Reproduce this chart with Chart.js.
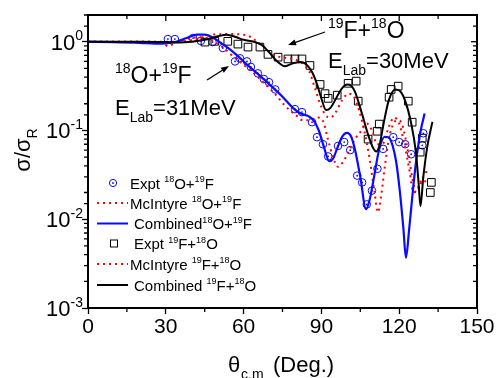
<!DOCTYPE html>
<html>
<head>
<meta charset="utf-8">
<script src="https://cdn.jsdelivr.net/npm/chart.js@4.4.1/dist/chart.umd.min.js"></script>
<style>
html, body { margin: 0; padding: 0; background: #fff; }
</style>
</head>
<body>
<canvas id="chart" width="497" height="378"></canvas>
<script>
// Expt 18O+19F (blue circles)
const exptOFAngles = [30.8, 33.5, 40.5, 43.5, 48, 52, 56.7, 58.6, 61.3, 62.8, 65.5, 67.8, 69.8, 72.2, 79.8, 82.5, 86.4, 88.3, 90.6, 92.6, 96.4, 98.8, 101.1, 103.8, 105.7, 107.5, 109.5, 111.6, 113.8, 117.7, 120.0, 122.3, 124.6, 128.9, 129.3];
const exptOFValues = [1.07, 1.07, 1.1, 1.02, 0.99, 0.85, 0.6, 0.65, 0.6, 0.52, 0.44, 0.38, 0.35, 0.29, 0.174, 0.161, 0.124, 0.084, 0.070, 0.051, 0.067, 0.074, 0.060, 0.031, 0.026, 0.0147, 0.021, 0.037, 0.062, 0.084, 0.074, 0.070, 0.054, 0.068, 0.093];

// Expt 19F+18O (black squares)
const exptFOAngles = [45.1, 48.9, 53.9, 57.8, 61.7, 66.3, 69.4, 73.3, 77.1, 79.8, 82.5, 85.6, 89.5, 91.4, 92.6, 96.1, 100.3, 103.4, 104.2, 108.0, 111.5, 112.3, 116.1, 116.9, 119.6, 123.5, 125.0, 128.1, 128.9, 132.4, 132.0];
const exptFOValues = [0.99, 1.01, 1.01, 0.94, 0.87, 0.87, 0.72, 0.67, 0.64, 0.64, 0.64, 0.54, 0.33, 0.26, 0.23, 0.25, 0.34, 0.36, 0.214, 0.080, 0.098, 0.118, 0.237, 0.29, 0.316, 0.214, 0.124, 0.057, 0.082, 0.026, 0.020];

// McIntyre 18O+19F (red dotted)
const mcOFAngles = [0, 25, 29, 31, 33, 37, 42, 46, 50, 53, 56, 60, 64, 68, 72, 76, 80, 83, 86, 88.5, 90.5, 92.5, 94.5, 96.4, 98.5, 100.5, 103, 105.5, 107.5, 109.5, 111.5, 113.5, 116, 118, 120, 122, 124, 125.5, 127, 129, 131];
const mcOFValues = [1.0, 1.0, 0.95, 0.89, 0.95, 1.05, 1.12, 1.1, 0.95, 0.82, 0.68, 0.55, 0.44, 0.34, 0.26, 0.19, 0.15, 0.13, 0.13, 0.14, 0.13, 0.08, 0.05, 0.039, 0.045, 0.058, 0.08, 0.1, 0.12, 0.1, 0.07, 0.07, 0.11, 0.14, 0.12, 0.07, 0.035, 0.02, 0.022, 0.028, 0.025];

// Combined 18O+19F (blue line)
const combOFAngles = [0, 10, 20, 26, 30, 34, 38, 42, 45, 48, 51, 54, 58, 62, 66, 70, 75, 79, 82, 85, 87, 89, 91, 93, 94.5, 96, 98, 99.9, 101.5, 103, 105, 107.2, 108.7, 110.3, 112.2, 114.4, 115.8, 117.3, 118.8, 120.3, 121.6, 122.6, 123.8, 125.2, 126.7, 128.3, 129.8];
const combOFValues = [1.0, 0.99, 0.97, 0.95, 0.96, 1.0, 1.1, 1.2, 1.2, 1.12, 0.98, 0.85, 0.68, 0.53, 0.42, 0.33, 0.24, 0.18, 0.155, 0.145, 0.13, 0.1, 0.065, 0.045, 0.048, 0.062, 0.085, 0.094, 0.085, 0.06, 0.03, 0.013, 0.017, 0.03, 0.06, 0.085, 0.084, 0.07, 0.045, 0.02, 0.008, 0.0037, 0.0075, 0.02, 0.05, 0.1, 0.155];

// McIntyre 19F+18O (red dotted)
const mcFOAngles = [0, 20, 30, 38, 44, 48, 55, 60, 63, 66, 69, 72, 76, 80, 83, 85.5, 87.5, 89.5, 91.5, 93.5, 95.5, 98, 100.5, 102.5, 104.5, 106.5, 108.5, 110.5, 111.8, 113, 114.5, 116, 117.8, 119.5, 121, 122.5, 124, 125.5, 126.5, 128, 130, 132];
const mcFOValues = [1.0, 1.0, 1.0, 1.02, 1.12, 1.2, 1.22, 1.2, 1.12, 0.95, 0.8, 0.7, 0.66, 0.63, 0.56, 0.45, 0.3, 0.2, 0.15, 0.14, 0.16, 0.22, 0.26, 0.24, 0.17, 0.1, 0.05, 0.02, 0.012, 0.018, 0.04, 0.08, 0.12, 0.13, 0.12, 0.08, 0.045, 0.025, 0.02, 0.024, 0.033, 0.035];

// Combined 19F+18O (black line)
const combFOAngles = [0, 20, 30, 35, 40, 45, 50, 53.5, 57, 60, 64, 67, 69.5, 72.5, 76, 79, 82, 84, 86.5, 88.2, 89.8, 91.8, 93.5, 96, 98, 100, 101.5, 103, 105.5, 108, 110, 111.2, 112.5, 114, 116, 118.5, 120.2, 122.2, 124.5, 126.5, 127.5, 128.2, 129.3, 130.8, 132.8];
const combFOValues = [1.0, 1.0, 0.99, 0.98, 1.0, 1.05, 1.15, 1.2, 1.13, 1.05, 1.0, 0.92, 0.78, 0.62, 0.53, 0.57, 0.59, 0.56, 0.45, 0.34, 0.24, 0.17, 0.18, 0.24, 0.3, 0.33, 0.32, 0.27, 0.16, 0.09, 0.063, 0.058, 0.07, 0.12, 0.22, 0.29, 0.28, 0.22, 0.125, 0.055, 0.025, 0.014, 0.03, 0.065, 0.125];

const yTickExps = ['0', '-1', '-2', '-3'];

const FONT = '"Liberation Sans", Arial, sans-serif';
const BLUE = '#0a0aff';
const RED = '#ff0000';

function toPoints(xs, ys) {
    return xs.map((x, i) => ({ x: x, y: ys[i] }));
}

function isPow10(v) {
    const l = Math.log10(v);
    return Math.abs(l - Math.round(l)) < 1e-9;
}

// draw text made of normal / sup / sub pieces
function richText(ctx, x, y, parts, size) {
    let cx = x;
    parts.forEach(p => {
        const t = p[0], mode = p[1] || 'n';
        let s = size, dy = 0;
        if (mode === 'sup') { s = Math.round(size * 0.62); dy = -size * 0.42; }
        if (mode === 'sub') { s = Math.round(size * 0.62); dy = size * 0.3; }
        ctx.font = s + 'px ' + FONT;
        ctx.fillText(t, cx, y + dy);
        cx += ctx.measureText(t).width;
    });
    return cx;
}

function arrow(ctx, x1, y1, x2, y2) {
    const a = Math.atan2(y2 - y1, x2 - x1);
    ctx.beginPath();
    ctx.moveTo(x1, y1);
    ctx.lineTo(x2 - 5 * Math.cos(a), y2 - 5 * Math.sin(a));
    ctx.stroke();
    ctx.beginPath();
    ctx.moveTo(x2, y2);
    ctx.lineTo(x2 - 8 * Math.cos(a) + 3 * Math.sin(a), y2 - 8 * Math.sin(a) - 3 * Math.cos(a));
    ctx.lineTo(x2 - 8 * Math.cos(a) - 3 * Math.sin(a), y2 - 8 * Math.sin(a) + 3 * Math.cos(a));
    ctx.closePath();
    ctx.fill();
}

// small dot in the centre of each open circle
const centreDots = {
    id: 'centreDots',
    afterDatasetsDraw(chart) {
        const ctx = chart.ctx;
        chart.data.datasets.forEach((ds, i) => {
            if (!ds.centreDot) return;
            ctx.save();
            ctx.fillStyle = ds.borderColor;
            chart.getDatasetMeta(i).data.forEach(p => {
                ctx.beginPath();
                ctx.arc(p.x, p.y, 0.9, 0, Math.PI * 2);
                ctx.fill();
            });
            ctx.restore();
        });
    }
};

const decorPlugin = {
    id: 'decor',
    afterDraw(chart) {
        const ctx = chart.ctx;
        const area = chart.chartArea;
        const xs = chart.scales.x, ys = chart.scales.y;
        ctx.save();
        ctx.fillStyle = '#000';
        ctx.strokeStyle = '#000';

        // top and right frame
        ctx.lineWidth = 2;
        ctx.beginPath();
        ctx.moveTo(area.left, area.top);
        ctx.lineTo(area.right, area.top);
        ctx.lineTo(area.right, area.bottom);
        ctx.stroke();

        // minor ticks outside, mirror ticks inside
        ctx.lineWidth = 1.3;
        xs.ticks.forEach(t => {
            const px = xs.getPixelForValue(t.value);
            const major = t.value % 30 === 0;
            ctx.beginPath();
            if (!major) {
                ctx.moveTo(px, area.bottom);
                ctx.lineTo(px, area.bottom + 4);
            }
            ctx.moveTo(px, area.top);
            ctx.lineTo(px, area.top + (major ? 6 : 4));
            ctx.stroke();
        });
        ys.ticks.forEach(t => {
            const py = ys.getPixelForValue(t.value);
            const major = isPow10(t.value);
            ctx.beginPath();
            if (!major) {
                ctx.moveTo(area.left, py);
                ctx.lineTo(area.left - 4, py);
            }
            ctx.moveTo(area.right, py);
            ctx.lineTo(area.right - (major ? 6 : 4), py);
            ctx.stroke();
        });

        // y tick labels 10^n
        ctx.textBaseline = 'alphabetic';
        ctx.textAlign = 'left';
        yTickExps.forEach(e => {
            const py = ys.getPixelForValue(Math.pow(10, Number(e)));
            ctx.font = '14px ' + FONT;
            const ew = ctx.measureText(e).width;
            ctx.font = '22px ' + FONT;
            const bw = ctx.measureText('10').width;
            const x0 = 83 - ew - bw;
            richText(ctx, x0, py + 8, [['10'], [e, 'sup']], 22);
        });

        // axis titles
        ctx.save();
        ctx.translate(30, 150);
        ctx.rotate(-Math.PI / 2);
        ctx.font = '22px ' + FONT;
        const w1 = ctx.measureText('\u03c3/\u03c3').width;
        ctx.font = '14px ' + FONT;
        const w2 = ctx.measureText('R').width;
        richText(ctx, -(w1 + w2) / 2, 0, [['\u03c3/\u03c3'], ['R', 'sub']], 22);
        ctx.restore();

        ctx.font = '22px ' + FONT;
        ctx.fillText('\u03b8', 228, 372);
        ctx.font = '14px ' + FONT;
        ctx.fillText('c.m', 241, 379);
        ctx.font = '22px ' + FONT;
        ctx.fillText('(Deg.)', 273, 372);

        // annotations
        richText(ctx, 328, 38, [['19', 'sup'], ['F+'], ['18', 'sup'], ['O']], 23);
        richText(ctx, 328, 68, [['E'], ['Lab', 'sub'], ['=30MeV']], 22);
        richText(ctx, 115, 83, [['18', 'sup'], ['O+'], ['19', 'sup'], ['F']], 23);
        richText(ctx, 115, 115, [['E'], ['Lab', 'sub'], ['=31MeV']], 22);
        ctx.lineWidth = 1.3;
        arrow(ctx, 325, 32, 288, 45);
        arrow(ctx, 207, 80, 229, 66);

        // legend
        const rows = [
            { y: 183, sym: 'circle', tx: 130, parts: [['Expt '], ['18', 'sup'], ['O+'], ['19', 'sup'], ['F']] },
            { y: 203, sym: 'red', tx: 130, parts: [['McIntyre '], ['18', 'sup'], ['O+'], ['19', 'sup'], ['F']] },
            { y: 223.5, sym: 'blue', tx: 134, parts: [['Combined'], ['18', 'sup'], ['O+'], ['19', 'sup'], ['F']] },
            { y: 243.5, sym: 'square', tx: 134, parts: [['Expt '], ['19', 'sup'], ['F+'], ['18', 'sup'], ['O']] },
            { y: 264, sym: 'red', tx: 130, parts: [['McIntyre '], ['19', 'sup'], ['F+'], ['18', 'sup'], ['O']] },
            { y: 285, sym: 'black', tx: 134, parts: [['Combined '], ['19', 'sup'], ['F+'], ['18', 'sup'], ['O']] }
        ];
        rows.forEach(r => {
            ctx.save();
            if (r.sym === 'circle') {
                ctx.strokeStyle = BLUE;
                ctx.fillStyle = BLUE;
                ctx.lineWidth = 1;
                ctx.beginPath();
                ctx.arc(113, r.y, 3.6, 0, Math.PI * 2);
                ctx.stroke();
                ctx.beginPath();
                ctx.arc(113, r.y, 0.9, 0, Math.PI * 2);
                ctx.fill();
            } else if (r.sym === 'square') {
                ctx.strokeStyle = '#000';
                ctx.lineWidth = 1;
                ctx.strokeRect(110.5, r.y - 3.5, 7, 7);
            } else {
                ctx.lineWidth = 2;
                ctx.strokeStyle = r.sym === 'red' ? RED : (r.sym === 'blue' ? BLUE : '#000');
                if (r.sym === 'red') ctx.setLineDash([2, 4]);
                ctx.beginPath();
                ctx.moveTo(97, r.y);
                ctx.lineTo(128, r.y);
                ctx.stroke();
            }
            ctx.restore();
            ctx.fillStyle = '#000';
            richText(ctx, r.tx, r.y + 5.5, r.parts, 15);
        });

        ctx.restore();
    }
};

new Chart(document.getElementById('chart'), {
    type: 'scatter',
    data: {
        datasets: [
            {
                label: 'Combined 19F+18O',
                data: toPoints(combFOAngles, combFOValues),
                showLine: true,
                borderColor: '#000',
                borderWidth: 2,
                pointRadius: 0,
                cubicInterpolationMode: 'monotone'
            },
            {
                label: 'Combined 18O+19F',
                data: toPoints(combOFAngles, combOFValues),
                showLine: true,
                borderColor: BLUE,
                borderWidth: 2.2,
                pointRadius: 0,
                cubicInterpolationMode: 'monotone'
            },
            {
                label: 'McIntyre 19F+18O',
                data: toPoints(mcFOAngles, mcFOValues),
                showLine: true,
                borderColor: RED,
                borderWidth: 2,
                borderDash: [2, 4],
                pointRadius: 0,
                cubicInterpolationMode: 'monotone'
            },
            {
                label: 'McIntyre 18O+19F',
                data: toPoints(mcOFAngles, mcOFValues),
                showLine: true,
                borderColor: RED,
                borderWidth: 2,
                borderDash: [2, 4],
                pointRadius: 0,
                cubicInterpolationMode: 'monotone'
            },
            {
                label: 'Expt 19F+18O',
                data: toPoints(exptFOAngles, exptFOValues),
                pointStyle: 'rect',
                pointRadius: 5.4,
                borderColor: '#000',
                borderWidth: 1,
                backgroundColor: 'rgba(255,255,255,0)'
            },
            {
                label: 'Expt 18O+19F',
                data: toPoints(exptOFAngles, exptOFValues),
                pointStyle: 'circle',
                pointRadius: 3.8,
                borderColor: BLUE,
                borderWidth: 1,
                backgroundColor: 'rgba(255,255,255,0)',
                centreDot: true
            }
        ]
    },
    options: {
        responsive: false,
        animation: false,
        devicePixelRatio: 1,
        layout: { padding: { top: 15, right: 20, left: 0, bottom: 0 } },
        plugins: {
            legend: { display: false },
            tooltip: { enabled: false }
        },
        scales: {
            x: {
                type: 'linear',
                min: 0,
                max: 150,
                afterFit: s => { s.height = 70; },
                ticks: {
                    stepSize: 15,
                    color: '#000',
                    font: { size: 21, family: FONT },
                    padding: 1,
                    maxRotation: 0,
                    autoSkip: false,
                    callback: v => (v % 30 === 0 ? v : '')
                },
                grid: {
                    drawOnChartArea: false,
                    drawTicks: true,
                    tickLength: 6,
                    tickWidth: 1.3,
                    tickColor: c => (c.tick && c.tick.value % 30 === 0 ? '#000' : 'rgba(0,0,0,0)')
                },
                border: { display: true, color: '#000', width: 2 }
            },
            y: {
                type: 'logarithmic',
                min: 0.001,
                max: 2,
                afterFit: s => { s.width = 88; },
                ticks: {
                    autoSkip: false,
                    callback: () => ''
                },
                grid: {
                    drawOnChartArea: false,
                    drawTicks: true,
                    tickLength: 6,
                    tickWidth: 1.3,
                    tickColor: c => (c.tick && isPow10(c.tick.value) ? '#000' : 'rgba(0,0,0,0)')
                },
                border: { display: true, color: '#000', width: 2 }
            }
        }
    },
    plugins: [centreDots, decorPlugin]
});
</script>
</body>
</html>
